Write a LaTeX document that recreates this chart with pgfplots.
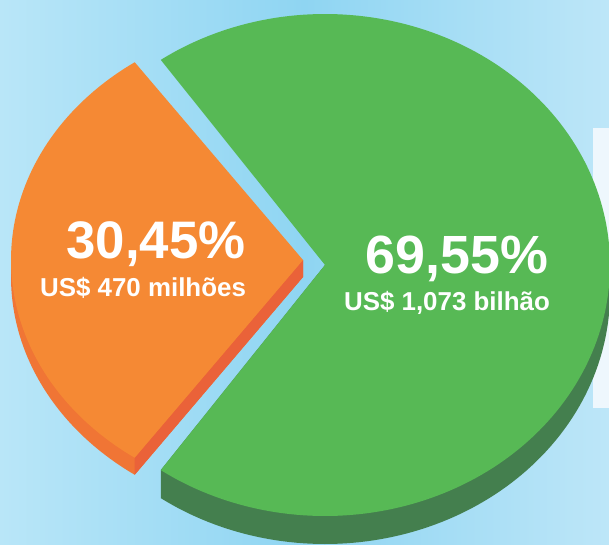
\documentclass[border=0pt]{standalone}
\usepackage{fontspec}
\setmainfont{Liberation Sans}
\usepackage{pgfplots}
\usepackage{pgfplotstable}
\pgfplotsset{compat=1.18}

\definecolor{bgL}{HTML}{B9E6F8}
\definecolor{bgM}{HTML}{8FD5F2}
\definecolor{bgR}{HTML}{BDE6F8}
\definecolor{panel}{HTML}{EEF7FD}
\definecolor{gtop}{HTML}{57B955}
\definecolor{gside}{HTML}{447F4E}
\definecolor{otop}{HTML}{F58934}
\definecolor{oside}{HTML}{F07535}
\definecolor{oface}{HTML}{EA6239}

\pgfplotstableread{
label value
verde 69.55
laranja 30.45
}\piedata

\begin{document}
\begin{tikzpicture}
\pgfplotstablegetelem{0}{value}\of\piedata \let\vg\pgfplotsretval
\pgfplotstablegetelem{1}{value}\of\piedata \let\vo\pgfplotsretval
% orange wedge centred on 180 deg
\pgfmathsetmacro{\half}{3.6*\vo/2}
\pgfmathsetmacro{\oA}{180-\half}
\pgfmathsetmacro{\oB}{180+\half}
\pgfmathsetmacro{\gA}{\oB-360}
\pgfmathsetmacro{\gB}{\gA+3.6*\vg}
% green geometry
\def\gcx{325}\def\gcy{265}\def\grx{285}\def\gry{251}\def\gd{28}
\pgfmathsetmacro{\gAx}{\gcx+\grx*cos(\gA)}
\pgfmathsetmacro{\gAy}{\gcy-\gry*sin(\gA)}
\pgfmathsetmacro{\gRx}{\gcx+\grx}
% orange geometry
\def\ocx{303}\def\ocy{260}\def\orx{292}\def\ory{242}\def\od{17}
\pgfmathsetmacro{\oBx}{\ocx+\orx*cos(\oB)}
\pgfmathsetmacro{\oBy}{\ocy-\ory*sin(\oB)}
\pgfmathsetmacro{\oByd}{\oBy+\od}
\pgfmathsetmacro{\ocyd}{\ocy+\od}
\pgfmathsetmacro{\oLx}{\ocx-\orx}
\begin{axis}[
  scale only axis, width=609bp, height=545bp,
  xmin=0, xmax=609, ymin=0, ymax=545, y dir=reverse,
  axis lines=none, ticks=none, clip=true,
]
% background gradient
\shade[left color=bgL, right color=bgR, middle color=bgM] (axis cs:0,0) rectangle (axis cs:609,545);
% white panel behind
\addplot[draw=none, fill=panel] coordinates {(593,128) (615,128) (615,408) (593,408)} -- cycle;
% green side
\addplot[draw=none, fill=gside, domain=\gA:0, samples=90]
  ({\gcx+\grx*cos(x)},{\gcy+\gd-\gry*sin(x)}) -- (\gRx,\gcy) -- (\gcx,\gcy) -- (\gAx,\gAy) -- cycle;
% green top
\addplot[draw=none, fill=gtop, domain=\gA:\gB, samples=180]
  ({\gcx+\grx*cos(x)},{\gcy-\gry*sin(x)}) -- (\gcx,\gcy) -- cycle;
% orange side
\addplot[draw=none, fill=oside, domain=180:\oB, samples=60]
  ({\ocx+\orx*cos(x)},{\ocy+\od-\ory*sin(x)}) -- (\ocx,\ocyd) -- (\ocx,\ocy) -- (\oLx,\ocy) -- cycle;
% orange radial face
\addplot[draw=none, fill=oface] coordinates {(\ocx,\ocy) (\oBx,\oBy) (\oBx,\oByd) (\ocx,\ocyd)} -- cycle;
% orange top
\addplot[draw=none, fill=otop, domain=\oA:\oB, samples=90]
  ({\ocx+\orx*cos(x)},{\ocy-\ory*sin(x)}) -- (\ocx,\ocy) -- cycle;
% labels
\node[anchor=base, text=white, font=\fontsize{53}{60}\selectfont\bfseries] at (156,258) {30,45\%};
\node[anchor=base, text=white, font=\fontsize{26}{30}\selectfont\bfseries] at (143,296) {US\$ 470 milhões};
\node[anchor=base, text=white, font=\fontsize{54}{60}\selectfont\bfseries] at (457,273) {69,55\%};
\node[anchor=base, text=white, font=\fontsize{26}{30}\selectfont\bfseries] at (447,310) {US\$ 1,073 bilhão};
\end{axis}
\end{tikzpicture}
\end{document}
